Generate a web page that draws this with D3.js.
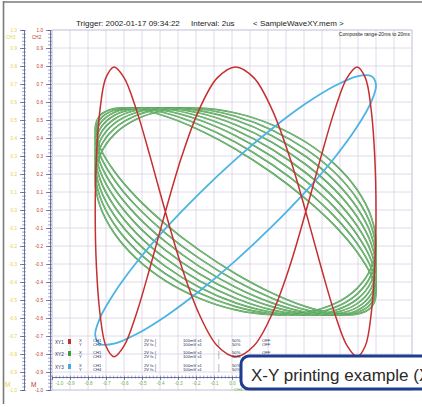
<!DOCTYPE html>
<html>
<head>
<meta charset="utf-8">
<script src="https://cdn.jsdelivr.net/npm/d3@7"></script>
<style>
body { margin: 0; background: #fff; }
svg { display: block; font-family: "Liberation Sans", Arial, sans-serif; }
</style>
</head>
<body>
<div id="plot"></div>
<script>
// CH1 samples (X of every XY pair), coarse sweep
const ch1 = [0.800, 0.773, 0.695, 0.572, 0.410, 0.222, 0.020, -0.182, -0.370, -0.532, -0.655, -0.733,
             -0.760, -0.733, -0.655, -0.532, -0.370, -0.182, 0.020, 0.222, 0.410, 0.572, 0.695, 0.773];
// CH4 samples (Y of XY3, blue)
const ch4 = [0.695, 0.599, 0.462, 0.293, 0.104, -0.091, -0.281, -0.451, -0.591, -0.690, -0.743, -0.744,
             -0.695, -0.599, -0.462, -0.293, -0.104, 0.091, 0.281, 0.451, 0.591, 0.690, 0.743, 0.744];
// CH3 samples (Y of XY2, green), one row per sweep
const ch3Sweeps = [
  [-0.186, -0.321, -0.435, -0.520, -0.570, -0.582, -0.555, -0.490, -0.393, -0.269, -0.128, 0.022, 0.170, 0.305, 0.419, 0.504, 0.554, 0.566, 0.539, 0.474, 0.377, 0.253, 0.112, -0.038],
  [-0.233, -0.362, -0.467, -0.541, -0.579, -0.577, -0.537, -0.461, -0.354, -0.223, -0.078, 0.072, 0.217, 0.346, 0.451, 0.525, 0.563, 0.561, 0.521, 0.445, 0.338, 0.207, 0.062, -0.088],
  [-0.278, -0.400, -0.496, -0.558, -0.583, -0.568, -0.516, -0.429, -0.313, -0.176, -0.028, 0.121, 0.262, 0.384, 0.480, 0.542, 0.567, 0.552, 0.500, 0.413, 0.297, 0.160, 0.012, -0.137],
  [-0.321, -0.435, -0.520, -0.570, -0.582, -0.555, -0.490, -0.393, -0.269, -0.128, 0.022, 0.170, 0.305, 0.419, 0.504, 0.554, 0.566, 0.539, 0.474, 0.377, 0.253, 0.112, -0.038, -0.186],
  [-0.362, -0.467, -0.541, -0.579, -0.577, -0.537, -0.461, -0.354, -0.223, -0.078, 0.072, 0.217, 0.346, 0.451, 0.525, 0.563, 0.561, 0.521, 0.445, 0.338, 0.207, 0.062, -0.088, -0.233],
  [-0.400, -0.496, -0.558, -0.583, -0.568, -0.516, -0.429, -0.313, -0.176, -0.028, 0.121, 0.262, 0.384, 0.480, 0.542, 0.567, 0.552, 0.500, 0.413, 0.297, 0.160, 0.012, -0.137, -0.278],
  [-0.435, -0.520, -0.570, -0.582, -0.555, -0.490, -0.393, -0.269, -0.128, 0.022, 0.170, 0.305, 0.419, 0.504, 0.554, 0.566, 0.539, 0.474, 0.377, 0.253, 0.112, -0.038, -0.186, -0.321],
  [-0.467, -0.541, -0.579, -0.577, -0.537, -0.461, -0.354, -0.223, -0.078, 0.072, 0.217, 0.346, 0.451, 0.525, 0.563, 0.561, 0.521, 0.445, 0.338, 0.207, 0.062, -0.088, -0.233, -0.362]
];
// CH1 fine sweep and CH2 samples (XY1, red)
const ch1Fine = [-0.760, -0.753, -0.733, -0.701, -0.655, -0.599, -0.532, -0.455, -0.370, -0.279, -0.182, -0.082,
                 0.020, 0.122, 0.222, 0.319, 0.410, 0.495, 0.572, 0.639, 0.695, 0.741, 0.773, 0.793,
                 0.800, 0.793, 0.773, 0.741, 0.695, 0.639, 0.572, 0.495, 0.410, 0.319, 0.222, 0.122,
                 0.020, -0.082, -0.182, -0.279, -0.370, -0.455, -0.532, -0.599, -0.655, -0.701, -0.733, -0.753];
const ch2 = [-0.010, 0.298, 0.559, 0.734, 0.795, 0.734, 0.559, 0.298, -0.010, -0.318, -0.579, -0.754, -0.815, -0.754, -0.579, -0.318,
             -0.010, 0.298, 0.559, 0.734, 0.795, 0.734, 0.559, 0.298, -0.010, -0.318, -0.579, -0.754, -0.815, -0.754, -0.579, -0.318,
             -0.010, 0.298, 0.559, 0.734, 0.795, 0.734, 0.559, 0.298, -0.010, -0.318, -0.579, -0.754, -0.815, -0.754, -0.579, -0.318];

// tick values and their printed labels
const ticks = [-1.0, -0.9, -0.8, -0.7, -0.6, -0.5, -0.4, -0.3, -0.2, -0.1, 0.0, 0.1, 0.2, 0.3, 0.4, 0.5, 0.6, 0.7, 0.8, 0.9, 1.0];
const tickLabels = ["-1.0", "-0.9", "-0.8", "-0.7", "-0.6", "-0.5", "-0.4", "-0.3", "-0.2", "-0.1", "0.0",
                    "0.1", "0.2", "0.3", "0.4", "0.5", "0.6", "0.7", "0.8", "0.9", "1.0"];

// legend table rows
const legendPairs = ["XY1", "XY2", "XY3"];
const legendX = ["CH1", "CH1", "CH1"];
const legendY = ["CH2", "CH3", "CH4"];
const legendColors = ["#c62f2f", "#3f9a3f", "#3fa9e0"];

const W = 422, H = 407;
const svg = d3.select("#plot").append("svg").attr("width", W).attr("height", H);

const x = d3.scaleLinear().domain([-1, 1]).range([52, 412]);
const y = d3.scaleLinear().domain([-1, 1]).range([390, 30]);

// outer frame (left + top)
svg.append("line").attr("x1", 3.5).attr("x2", 3.5).attr("y1", 1).attr("y2", 404)
  .attr("stroke", "#7a7a7a").attr("stroke-width", 1.6);
svg.append("line").attr("x1", 3).attr("x2", W).attr("y1", 2).attr("y2", 2)
  .attr("stroke", "#7a7a7a").attr("stroke-width", 1.6);

// title
const title = svg.append("g").attr("font-size", 8).attr("fill", "#222");
title.append("text").attr("x", 76).attr("y", 26).text("Trigger: 2002-01-17 09:34:22");
title.append("text").attr("x", 191).attr("y", 26).text("Interval: 2us");
title.append("text").attr("x", 253).attr("y", 26).text("< SampleWaveXY.mem >");

// grid
const grid = svg.append("g");
grid.selectAll(".gv").data(ticks).enter().append("line")
  .attr("x1", d => x(d)).attr("x2", d => x(d)).attr("y1", y(1)).attr("y2", y(-1))
  .attr("stroke", d => Math.abs(d) === 1 ? "#b9b6cf" : "#ddd6e6").attr("stroke-width", 0.9);
grid.selectAll(".gh").data(ticks).enter().append("line")
  .attr("y1", d => y(d)).attr("y2", d => y(d)).attr("x1", x(-1)).attr("x2", x(1))
  .attr("stroke", d => Math.abs(d) === 1 ? "#b9b6cf" : "#ddd6e6").attr("stroke-width", 0.9);

svg.append("text").attr("x", 410).attr("y", 36).attr("text-anchor", "end")
  .attr("font-size", 5).attr("fill", "#222").text("Composite range-20ms to 20ms");

// curves
const line = d3.line().x(d => x(d[0])).y(d => y(d[1])).curve(d3.curveCatmullRomClosed);

const greens = svg.append("g");
ch3Sweeps.forEach(sweep => {
  const pts = ch1.map((v, i) => [v, sweep[i]]);
  greens.append("path").attr("d", line(pts)).attr("fill", "none")
    .attr("stroke", "#44994a").attr("stroke-width", 1.7);
  greens.append("path").attr("d", line(pts)).attr("fill", "none")
    .attr("stroke", "#b5dfae").attr("stroke-width", 0.5);
});

svg.append("path").attr("d", line(ch1.map((v, i) => [v, ch4[i]])))
  .attr("fill", "none").attr("stroke", "#4cb4e4").attr("stroke-width", 1.8);

svg.append("path").attr("d", line(ch1Fine.map((v, i) => [v, ch2[i]])))
  .attr("fill", "none").attr("stroke", "#c62f2f").attr("stroke-width", 1.5);

// left axes
function leftAxis(xPos, color, chName) {
  const g = svg.append("g").attr("transform", `translate(${xPos},0)`);
  g.call(d3.axisLeft(y).tickValues(y.ticks(100)).tickSize(2).tickFormat(""));
  g.selectAll(".tick line").attr("x1", 2).attr("stroke", "#4d528f").attr("stroke-width", 0.5);
  g.select(".domain").attr("stroke", "#4d528f").attr("stroke-width", 0.8);
  const g2 = svg.append("g").attr("transform", `translate(${xPos},0)`);
  g2.call(d3.axisLeft(y).tickValues(ticks).tickSize(4).tickPadding(3).tickFormat((d, i) => tickLabels[i]));
  g2.select(".domain").remove();
  g2.selectAll(".tick line").attr("stroke", "#4d528f").attr("stroke-width", 0.7);
  g2.selectAll(".tick text").attr("fill", color).attr("font-size", 4.6)
    .attr("font-family", "Liberation Sans, Arial, sans-serif");
  svg.append("text").attr("x", xPos - 18).attr("y", 39).attr("font-size", 4.6)
    .attr("fill", color).text(chName);
  svg.append("text").attr("x", xPos - 19).attr("y", 387).attr("font-size", 6.5)
    .attr("fill", color).text("M");
}
leftAxis(24, "#e6d04a", "CH3");
leftAxis(50, "#c0392b", "CH2");

// bottom axis
const xa = svg.append("g").attr("transform", `translate(0,377)`);
xa.call(d3.axisBottom(x).tickValues(x.ticks(100)).tickSize(1.5).tickFormat(""));
xa.selectAll(".tick line").attr("y1", -1.5).attr("stroke", "#4d528f").attr("stroke-width", 0.5);
xa.select(".domain").attr("stroke", "#4d528f").attr("stroke-width", 0.8);
const xa2 = svg.append("g").attr("transform", `translate(0,377)`);
xa2.call(d3.axisBottom(x).tickValues(ticks).tickSize(3).tickPadding(2).tickFormat((d, i) => tickLabels[i]));
xa2.select(".domain").remove();
xa2.selectAll(".tick line").attr("stroke", "#4d528f").attr("stroke-width", 0.7);
xa2.selectAll(".tick text").attr("fill", "#6ab04c").attr("font-size", 4.6)
  .attr("font-family", "Liberation Sans, Arial, sans-serif")
  .attr("text-anchor", d => d === -1 ? "start" : "middle")
  .attr("dx", d => d === -1 ? 3 : 0);
svg.append("text").attr("x", x(0) + 2).attr("y", 391).attr("font-size", 4.4)
  .attr("fill", "#6ab04c").text("CH1 X");

// legend table
const leg = svg.append("g").attr("font-size", 4.2).attr("fill", "#26305a");
const rowY = [342, 354, 367];
legendPairs.forEach((p, i) => {
  const yy = rowY[i];
  leg.append("text").attr("x", 55).attr("y", yy + 2).attr("font-size", 4.6).text(p);
  leg.append("rect").attr("x", 68).attr("y", yy - 3).attr("width", 3).attr("height", 5)
    .attr("fill", legendColors[i]);
  [["X", legendX[i], 0], ["Y", legendY[i], 4.2]].forEach(([axisName, ch, dy]) => {
    leg.append("text").attr("x", 79).attr("y", yy + dy).text(axisName);
    leg.append("text").attr("x", 93).attr("y", yy + dy).text(ch);
    leg.append("text").attr("x", 144).attr("y", yy + dy).text("2V  fs  (");
    leg.append("text").attr("x", 183).attr("y", yy + dy).text("100mV x1");
    leg.append("text").attr("x", 218).attr("y", yy + dy).text(")");
    leg.append("text").attr("x", 232).attr("y", yy + dy).text("50%");
    leg.append("text").attr("x", 262).attr("y", yy + dy).text("OFF");
  });
});

// caption box
svg.append("rect").attr("x", 241).attr("y", 356).attr("width", 220).attr("height", 33)
  .attr("rx", 8).attr("fill", "#fff").attr("stroke", "#1f3d8f").attr("stroke-width", 3);
svg.append("text").attr("x", 251).attr("y", 381).attr("font-size", 17)
  .attr("font-family", "Liberation Sans, Arial, sans-serif")
  .attr("fill", "#2a2a2a").text("X-Y printing example (X-Y Composite)");
</script>
</body>
</html>
